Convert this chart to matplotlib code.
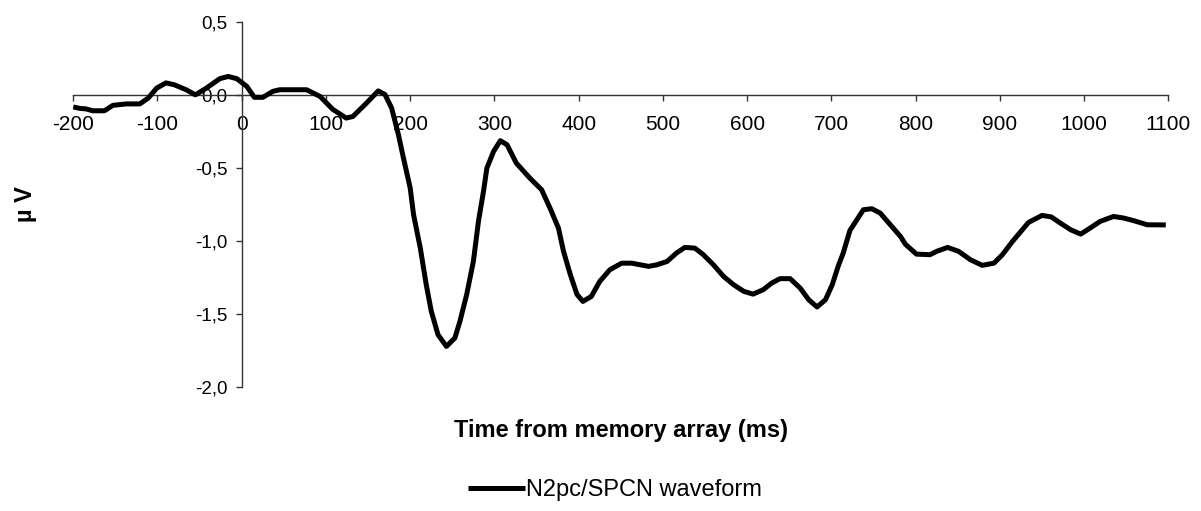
import matplotlib
matplotlib.use("Agg")
import matplotlib.pyplot as plt

plt.rcParams['font.family'] = ['Liberation Sans', 'DejaVu Sans']
plt.rcParams['axes.unicode_minus'] = False

# N2pc/SPCN difference wave (ms, microvolts)
time_ms = [-200, -192, -185, -177, -163, -153, -137, -121, -111, -101,
           -90, -80, -66, -55, -42, -26, -16, -6, 6, 15,
           25, 37, 45, 77, 93, 108, 124, 132, 148, 162,
           170, 178, 186, 192, 200, 204, 212, 219, 225, 233,
           243, 253, 259, 267, 275, 281, 287, 291, 299, 307,
           315, 326, 342, 356, 366, 376, 382, 390, 398, 405,
           415, 425, 437, 451, 463, 473, 483, 493, 505, 516,
           526, 538, 548, 560, 572, 584, 596, 607, 619, 629,
           639, 651, 663, 673, 683, 693, 701, 708, 714, 722,
           738, 748, 758, 770, 782, 788, 801, 817, 825, 838,
           851, 865, 879, 893, 903, 915, 934, 950, 961, 972,
           984, 996, 1007, 1019, 1035, 1047, 1059, 1075, 1097]
amp_uv = [-0.084, -0.094, -0.097, -0.110, -0.110, -0.073, -0.063, -0.063, -0.023, 0.045,
          0.081, 0.068, 0.034, -0.001, 0.045, 0.110, 0.125, 0.110, 0.057, -0.018,
          -0.018, 0.023, 0.034, 0.034, -0.012, -0.100, -0.160, -0.149, -0.058, 0.026,
          0.002, -0.092, -0.274, -0.434, -0.640, -0.822, -1.051, -1.300, -1.483, -1.644,
          -1.724, -1.667, -1.553, -1.370, -1.142, -0.868, -0.662, -0.503, -0.388, -0.315,
          -0.343, -0.469, -0.571, -0.651, -0.777, -0.914, -1.073, -1.231, -1.368, -1.416,
          -1.382, -1.279, -1.199, -1.154, -1.154, -1.165, -1.176, -1.165, -1.142, -1.085,
          -1.046, -1.051, -1.096, -1.165, -1.245, -1.302, -1.347, -1.366, -1.336, -1.291,
          -1.260, -1.260, -1.325, -1.404, -1.454, -1.404, -1.302, -1.176, -1.085, -0.930,
          -0.788, -0.781, -0.811, -0.891, -0.971, -1.025, -1.092, -1.096, -1.073, -1.046,
          -1.073, -1.130, -1.169, -1.154, -1.096, -1.005, -0.875, -0.827, -0.837, -0.880,
          -0.925, -0.955, -0.914, -0.868, -0.834, -0.845, -0.863, -0.891, -0.892]

x_ticks = [-200, -100, 0, 100, 200, 300, 400, 500, 600, 700, 800, 900, 1000, 1100]
x_labels = ["-200", "-100", "0", "100", "200", "300", "400", "500", "600",
            "700", "800", "900", "1000", "1100"]
y_ticks = [0.5, 0.0, -0.5, -1.0, -1.5, -2.0]
y_labels = ["0,5", "0,0", "-0,5", "-1,0", "-1,5", "-2,0"]

fig = plt.figure(figsize=(12.01, 5.11), dpi=100)
ax = fig.add_axes([0.061, 0.2433, 0.9118, 0.7142])

ax.plot(time_ms, amp_uv, color="black", lw=3.6, solid_joinstyle="round",
        solid_capstyle="butt", zorder=3, label="N2pc/SPCN waveform")

ax.set_xlim(-200, 1100)
ax.set_ylim(-2.0, 0.5)

# axes cross at the origin, Excel style
ax.spines["left"].set_position(("data", 0))
ax.spines["bottom"].set_position(("data", 0))
ax.spines["top"].set_visible(False)
ax.spines["right"].set_visible(False)
for s in ("left", "bottom"):
    ax.spines[s].set_color("#333333")
    ax.spines[s].set_linewidth(1.0)

ax.set_xticks(x_ticks)
ax.set_xticklabels(x_labels)
ax.set_yticks(y_ticks)
ax.set_yticklabels(y_labels)
ax.tick_params(axis="x", direction="out", length=4, width=1, color="#333333",
               labelsize=15, pad=10.5)
ax.tick_params(axis="y", direction="out", length=4, width=1, color="#333333",
               labelsize=13.5, pad=6)

ax.set_xlabel("Time from memory array (ms)", fontsize=17, fontweight="bold")
ax.xaxis.set_label_coords(0.5, -0.119)
ax.xaxis.label.set_va("center")
ax.set_ylabel("µ V", fontsize=17, fontweight="bold")
ax.yaxis.set_label_coords(-0.044, 0.5)
ax.yaxis.label.set_va("center")

ax.legend(loc="center", bbox_to_anchor=(0.512, 0.041), bbox_transform=fig.transFigure,
          frameon=False, fontsize=17, handlelength=2.4, handletextpad=0.05,
          borderpad=0)

fig.savefig("out.png", dpi=100)
plt.close(fig)
